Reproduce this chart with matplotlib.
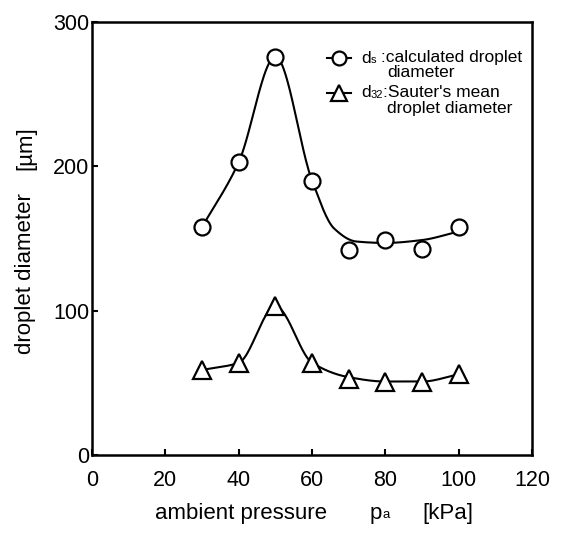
import numpy as np
import matplotlib
matplotlib.use("Agg")
import matplotlib.pyplot as plt

plt.rcParams["font.family"] = ["Liberation Sans", "DejaVu Sans"]

# measured points
pressure = [30, 40, 50, 60, 70, 80, 90, 100]
d_s = [158, 203, 276, 190, 142, 149, 143, 158]
d_32 = [59, 64, 103, 64, 53, 51, 51, 56]

# knots of the smoothed trend lines
ds_fit_x = [30, 40, 50, 60, 66, 72, 80, 90, 100]
ds_fit_y = [158, 203, 276, 190, 157, 148, 147, 149, 155]
d32_fit_x = [30, 40, 50, 60, 70, 80, 90, 100]
d32_fit_y = [59, 64, 103, 64, 54, 51, 51, 56]

x_ticks = [0, 20, 40, 60, 80, 100, 120]
y_ticks = [0, 100, 200, 300]


def pchip(x, y, xs):
    x = np.asarray(x, float)
    y = np.asarray(y, float)
    h = np.diff(x)
    d = np.diff(y) / h
    m = np.zeros_like(y)
    m[0], m[-1] = d[0], d[-1]
    for k in range(1, len(x) - 1):
        if d[k - 1] * d[k] > 0:
            w1 = 2 * h[k] + h[k - 1]
            w2 = h[k] + 2 * h[k - 1]
            m[k] = (w1 + w2) / (w1 / d[k - 1] + w2 / d[k])
    idx = np.clip(np.searchsorted(x, xs) - 1, 0, len(x) - 2)
    t = (xs - x[idx]) / h[idx]
    h00 = 2 * t**3 - 3 * t**2 + 1
    h10 = t**3 - 2 * t**2 + t
    h01 = -2 * t**3 + 3 * t**2
    h11 = t**3 - t**2
    return (h00 * y[idx] + h10 * h[idx] * m[idx]
            + h01 * y[idx + 1] + h11 * h[idx] * m[idx + 1])


fig = plt.figure(figsize=(5.68, 5.38), dpi=100)
ax = fig.add_axes([0.162, 0.154, 0.775, 0.805])

xs = np.linspace(30, 100, 300)
ax.plot(xs, pchip(ds_fit_x, ds_fit_y, xs), color="black", lw=1.5, zorder=2)
ax.plot(xs, pchip(d32_fit_x, d32_fit_y, xs), color="black", lw=1.5, zorder=2)
ax.plot(pressure, d_s, ls="none", marker="o", ms=11.5, mfc="white",
        mec="black", mew=1.6, zorder=3)
ax.plot(pressure, d_32, ls="none", marker="^", ms=13, mfc="white",
        mec="black", mew=1.6, zorder=3)

ax.set_xlim(0, 120)
ax.set_ylim(0, 300)
ax.set_xticks(x_ticks)
ax.set_yticks(y_ticks)
ax.tick_params(direction="in", length=4, width=1.5, labelsize=15.5)
ax.tick_params(axis="x", pad=11)
ax.tick_params(axis="y", pad=2)
for s in ax.spines.values():
    s.set_linewidth(1.8)

# legend entries
ax.plot([64, 70.7], [275, 275], color="black", lw=1.5)
ax.plot([67.3], [275], marker="o", ms=10, mfc="white", mec="black", mew=1.6)
ax.plot([64, 70.7], [251, 251], color="black", lw=1.5)
ax.plot([67.3], [251], marker="^", ms=11, mfc="white", mec="black", mew=1.6)

fs = 12.5
t = ax.text(73.3, 275, "d", fontsize=fs, va="center")
t = ax.annotate("s", xy=(1, 0.05), xycoords=t, fontsize=8, va="bottom")
ax.annotate(" :calculated droplet", xy=(1, -0.05), xycoords=t,
            fontsize=fs, va="bottom")
ax.text(80.5, 265, "diameter", fontsize=fs, va="center")
t = ax.text(73.3, 251, "d", fontsize=fs, va="center")
t = ax.annotate("32", xy=(1, 0.05), xycoords=t, fontsize=8, va="bottom")
ax.annotate(":Sauter's mean", xy=(1, -0.05), xycoords=t,
            fontsize=fs, va="bottom")
ax.text(80.5, 240, "droplet diameter", fontsize=fs, va="center")

fig.text(0.045, 0.491, "droplet diameter", rotation=90,
         fontsize=16, ha="center", va="center")
fig.text(0.045, 0.725, "[\u00b5m]", rotation=90,
         fontsize=16, ha="center", va="center")
fig.text(0.273, 0.036, "ambient pressure", fontsize=16, va="baseline")
t = fig.text(0.651, 0.036, "p", fontsize=16, va="baseline")
ax.annotate("a", xy=(1, 0.12), xycoords=t, fontsize=9.5, va="bottom",
            annotation_clip=False)
fig.text(0.743, 0.036, "[kPa]", fontsize=16, va="baseline")

fig.savefig("out.png", dpi=100)
